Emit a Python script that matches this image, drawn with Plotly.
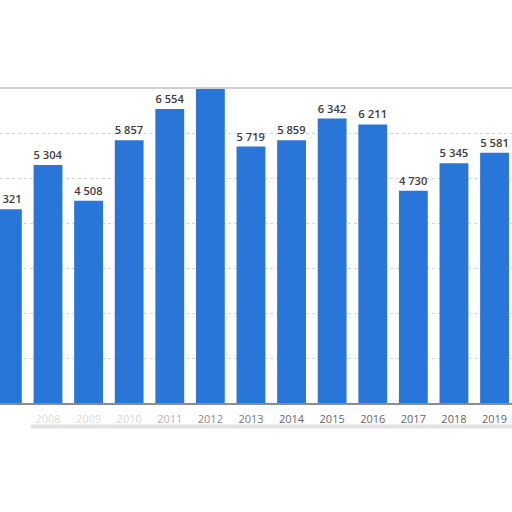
import plotly.graph_objects as go

years = [2007, 2008, 2009, 2010, 2011, 2012, 2013, 2014, 2015, 2016, 2017, 2018, 2019]
values = [4321, 5304, 4508, 5857, 6554, 7150, 5719, 5859, 6342, 6211, 4730, 5345, 5581]
tick_labels = ["2007", "2008", "2009", "2010", "2011", "2012", "2013",
               "2014", "2015", "2016", "2017", "2018", "2019"]
# older labels look faded/blurred in the reference
tick_colors = ["#9a9a9a", "#dcdcdc", "#dcdcdc", "#d6d6d6", "#b4b4b4", "#8a8a8a", "#777777",
               "#666666", "#666666", "#666666", "#666666", "#666666", "#666666"]

bar_text = [f"{v:,}".replace(",", " ") for v in values]
ticktext = [f'<span style="color:{c}">{t}</span>' for t, c in zip(tick_labels, tick_colors)]

fig = go.Figure()

fig.add_trace(go.Bar(
    x=years,
    y=values,
    text=bar_text,
    textposition="outside",
    textfont=dict(family="Open Sans", size=11.5, color="#3c3c3c", weight=600),
    marker=dict(color="#2a75d8", line=dict(width=0)),
    width=0.71,
    cliponaxis=True,
    hoverinfo="skip",
))

fig.update_layout(
    width=512,
    height=512,
    margin=dict(l=0, r=0, t=89, b=109, autoexpand=False),
    paper_bgcolor="white",
    plot_bgcolor="white",
    showlegend=False,
    font=dict(family="Open Sans", color="#666666"),
    xaxis=dict(
        range=[2006.818, 2019.43],
        tickmode="array",
        tickvals=years,
        ticktext=ticktext,
        tickfont=dict(size=11),
        ticklabelstandoff=5,
        showgrid=False,
        showline=True,
        linecolor="#8c8c8c",
        linewidth=2,
        ticks="",
        zeroline=False,
        automargin=False,
    ),
    yaxis=dict(
        range=[0, 7000],
        dtick=1000,
        showticklabels=False,
        showgrid=True,
        gridcolor="#d4d4d4",
        griddash="dot",
        gridwidth=1,
        zeroline=False,
        automargin=False,
    ),
    shapes=[
        # frame top edge
        dict(type="line", xref="paper", yref="paper", x0=0, x1=1, y0=1.003, y1=1.003,
             line=dict(color="#cfcfcf", width=2)),
        # soft shadow under the tick labels
        dict(type="line", xref="paper", yref="paper", x0=0.06, x1=1, y0=-0.075, y1=-0.075,
             line=dict(color="#e2e2e2", width=4)),
    ],
)

# drop the default page margin so the 512px figure fills the window
fig.write_html("out.html", config={"displayModeBar": False},
               post_script="document.body.style.margin='0';")
